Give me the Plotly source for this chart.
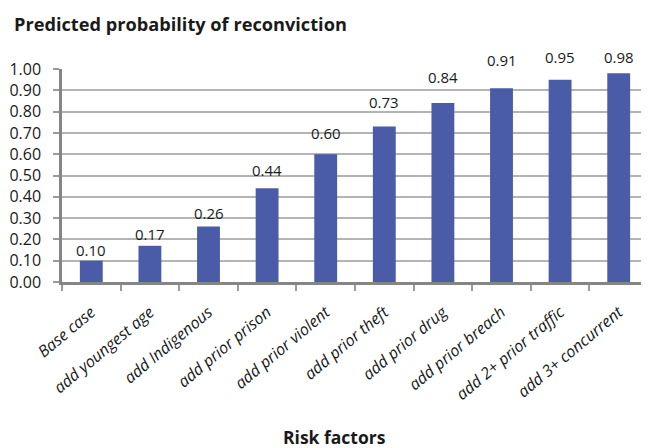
import plotly.graph_objects as go

categories = ["Base case", "add youngest age", "add Indigenous", "add prior prison",
              "add prior violent", "add prior theft", "add prior drug",
              "add prior breach", "add 2+ prior traffic", "add 3+ concurrent"]
values = [0.10, 0.17, 0.26, 0.44, 0.60, 0.73, 0.84, 0.91, 0.95, 0.98]
y_ticks = [0.0, 0.1, 0.2, 0.3, 0.4, 0.5, 0.6, 0.7, 0.8, 0.9, 1.0]

FONT = "Open Sans"
TXT = "#1a1a1a"

# plot area in figure pixels (page adds an 8px body margin)
L, R, T, B = 54, 640, 61, 274

fig = go.Figure()
fig.add_trace(go.Bar(
    x=categories, y=values,
    marker=dict(color="#4a5ba8", line=dict(width=0)),
    width=0.39,
    hoverinfo="x+y",
))
# value labels above bars (y axis spans 0..1, so domain fraction == value);
# the top labels sit just above the plot top
for c, v in zip(categories, values):
    fig.add_annotation(
        x=c, xref="x", y=min(v * 1.1 + 0.04, 1.057), yref="y domain",
        text=f"{v:.2f}", showarrow=False, yanchor="middle",
        font=dict(family=FONT, size=15, color=TXT),
    )

fig.add_annotation(
    x=(326 - L) / (R - L), y=-(429 - B) / (B - T), xref="paper", yref="paper",
    xanchor="center", yanchor="middle",
    text="<b>Risk factors</b>", showarrow=False,
    font=dict(family=FONT, size=17.5, color=TXT),
)

fig.update_layout(
    width=649, height=448,
    margin=dict(l=L, r=649 - R, t=T, b=448 - B),
    paper_bgcolor="white", plot_bgcolor="white",
    showlegend=False,
    title=dict(text="<b>Predicted probability of reconviction</b>",
               x=6 / 649, xanchor="left", y=1 - 17 / 448, yanchor="middle",
               font=dict(family=FONT, size=18.2, color=TXT)),
    font=dict(family=FONT, size=14, color=TXT),
)
fig.update_xaxes(
    automargin=False,
    tickangle=-40,
    tickfont=dict(family=FONT, size=16, color=TXT, style="italic"),
    showline=True, linecolor="#858585", linewidth=2.5,
    ticks="outside", ticklen=6, tickcolor="#9a9a9a", tickwidth=2,
    tickson="boundaries",
    ticklabelstandoff=12,
    showgrid=False,
)
fig.update_yaxes(
    automargin=False,
    range=[0, 1], tickvals=y_ticks, ticktext=[f"{t:.2f}" for t in y_ticks],
    tickfont=dict(family=FONT, size=16, color=TXT),
    showline=True, linecolor="#858585", linewidth=2.5,
    ticks="outside", ticklen=6, tickcolor="#9a9a9a", tickwidth=2,
    ticklabelstandoff=9,
    showgrid=True, gridcolor="#b4b4b4", gridwidth=2,
    zeroline=False,
)

fig.write_html("out.html")
